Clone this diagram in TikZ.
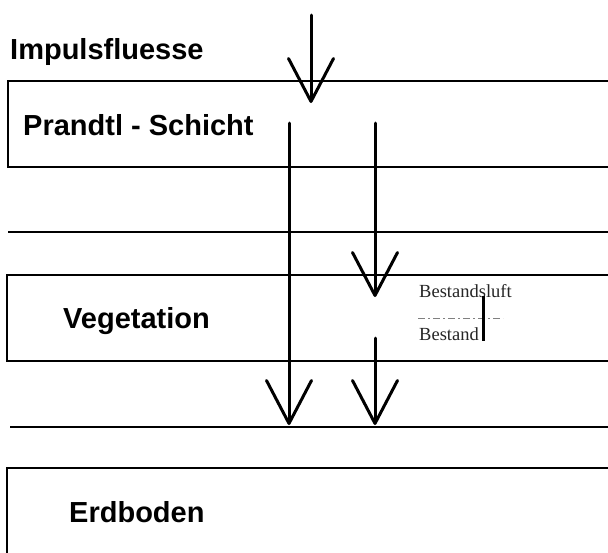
\documentclass[tikz,border=0pt]{standalone}
\usepackage{fontspec}
\usetikzlibrary{arrows.meta}
\newfontfamily\lsans{Liberation Sans}
\newfontfamily\lserif{Liberation Serif}
\begin{document}
\begin{tikzpicture}[x=1pt,y=-1pt,
  layer/.style={line width=1.8pt, black},
  flux/.style={line width=3pt, line cap=round, -{Straight Barb[length=43pt 0 0, width=45pt 0 0, line width=3pt 0, round]}},
  label/.style={anchor=base west, inner sep=0pt, font=\lsans\bfseries\fontsize{29}{34}\selectfont},
  small/.style={anchor=base west, inner sep=0pt, text=black!85, font=\lserif\fontsize{18.5}{22}\selectfont}]
\useasboundingbox (0,0) rectangle (608,552);
\fill[white] (0,0) rectangle (608,552);
% layers
\draw[layer] (608,81) -- (8,81) -- (8,167) -- (608,167);
\draw[layer] (8,232) -- (608,232);
\draw[layer] (608,275) -- (7,275) -- (7,361) -- (608,361);
\draw[layer] (10,427) -- (608,427);
\draw[layer] (608,468) -- (7,468) -- (7,553);
% labels
\node[label] (imp) at (10,59) {Impulsfluesse};
\node[label] (pra) at (23,135) {Prandtl - Schicht};
\node[label] (veg) at (63,328) {Vegetation};
\node[label] (erd) at (69,522) {Erdboden};
\node[small] (bl) at (419,297) {Bestandsluft};
\node[small] (bs) at (419,340) {Bestand};
\coordinate (d1) at (418,318);
\coordinate (d2) at (503,318);
\draw[gray, line width=0.9pt, dash pattern=on 7pt off 3pt on 2pt off 3pt] (d1) -- (d2);
\coordinate (b1) at (483,296);
\coordinate (b2) at (483,341);
\draw[line width=3pt] (b1) -- (b2);
% fluxes
\coordinate (a1s) at (311,15);  \coordinate (a1e) at (311,103);
\coordinate (a2s) at (289,123); \coordinate (a2e) at (289,425);
\coordinate (a3s) at (375,123); \coordinate (a3e) at (375,297);
\coordinate (a4s) at (375,338); \coordinate (a4e) at (375,425);
\draw[flux] (a1s) -- (a1e);
\draw[flux] (a2s) -- (a2e);
\draw[flux] (a3s) -- (a3e);
\draw[flux] (a4s) -- (a4e);
\end{tikzpicture}
\end{document}
